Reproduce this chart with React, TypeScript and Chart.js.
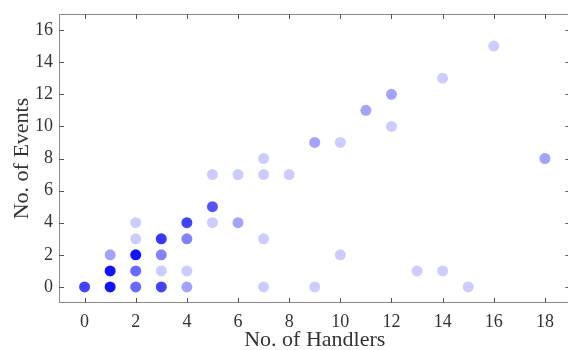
import React, { useEffect, useRef } from "react";
import { Chart, registerables } from "chart.js";

Chart.register(...registerables);

// No. of Handlers for each point
const handlers = [0, 1, 1, 1, 2, 2, 2, 2, 2, 3, 3, 3, 3, 4, 4, 4, 4, 5, 5, 5, 6, 6, 7, 7, 7, 7, 8, 9, 9, 10, 10, 11, 12, 12, 13, 14, 14, 15, 16, 18];
// No. of Events for each point
const events = [0, 0, 1, 2, 0, 1, 2, 3, 4, 0, 1, 2, 3, 0, 1, 3, 4, 4, 5, 7, 4, 7, 0, 3, 7, 8, 7, 0, 9, 2, 9, 11, 10, 12, 1, 1, 13, 0, 15, 8];
// how many observations overlap at each point (drives opacity)
const counts = [6, 12, 12, 2, 4, 4, 12, 1, 1, 6, 1, 3, 7, 2, 1, 3, 6, 1, 5, 1, 2, 1, 1, 1, 1, 1, 1, 1, 2, 1, 1, 2, 1, 2, 1, 1, 1, 1, 1, 2];

const xTicks = [0, 2, 4, 6, 8, 10, 12, 14, 16, 18];
const yTicks = [0, 2, 4, 6, 8, 10, 12, 14, 16];

const SERIF = "'Liberation Serif', 'Times New Roman', serif";

function colorFor(n: number): string {
  const a = 1 - Math.pow(0.8, n);
  return `rgba(0,0,255,${a.toFixed(3)})`;
}

const framePlugin = {
  id: "frame",
  afterDatasetsDraw(chart: any) {
    const { ctx, chartArea } = chart;
    const { left, right, top, bottom } = chartArea;
    const xs = chart.scales.x;
    const ys = chart.scales.y;
    ctx.save();
    ctx.strokeStyle = "#8a8a8a";
    ctx.lineWidth = 1;
    ctx.strokeRect(left + 0.5, top + 0.5, right - left - 1, bottom - top - 1);
    ctx.strokeStyle = "#555";
    const len = 5;
    ctx.beginPath();
    for (const v of xTicks) {
      const px = Math.round(xs.getPixelForValue(v)) + 0.5;
      ctx.moveTo(px, bottom);
      ctx.lineTo(px, bottom - len);
      ctx.moveTo(px, top);
      ctx.lineTo(px, top + len);
    }
    for (const v of yTicks) {
      const py = Math.round(ys.getPixelForValue(v)) + 0.5;
      ctx.moveTo(left, py);
      ctx.lineTo(left + len, py);
      ctx.moveTo(right, py);
      ctx.lineTo(right - len, py);
    }
    ctx.stroke();
    ctx.restore();
  },
};

export default function App() {
  const ref = useRef<HTMLCanvasElement>(null);
  useEffect(() => {
    if (!ref.current) return;
    const data = handlers.map((h, i) => ({ x: h, y: events[i] }));
    const chart = new Chart(ref.current, {
      type: "scatter",
      data: {
        datasets: [
          {
            data,
            backgroundColor: counts.map(colorFor),
            borderWidth: 0,
            pointRadius: 5.5,
            pointHoverRadius: 5.5,
          },
        ],
      },
      options: {
        responsive: false,
        animation: false,
        layout: { padding: { top: 14, right: 1, left: 0, bottom: 0 } },
        plugins: { legend: { display: false }, tooltip: { enabled: false } },
        scales: {
          x: {
            type: "linear",
            min: -1,
            max: 19,
            afterBuildTicks: (s: any) => {
              s.ticks = xTicks.map((v) => ({ value: v }));
            },
            afterFit: (s: any) => {
              s.height = 47;
              s.paddingLeft = 0;
              s.paddingRight = 0;
            },
            grid: { display: false, drawTicks: false },
            border: { display: false },
            ticks: {
              color: "#333",
              font: { family: SERIF, size: 18 },
              padding: 8,
              maxRotation: 0,
              autoSkip: false,
            },
            title: {
              display: true,
              text: "No. of Handlers",
              color: "#333",
              font: { family: SERIF, size: 22 },
              padding: { top: 0, bottom: -3 },
            },
          },
          y: {
            type: "linear",
            min: -1,
            max: 17,
            afterBuildTicks: (s: any) => {
              s.ticks = yTicks.map((v) => ({ value: v }));
            },
            afterFit: (s: any) => {
              s.width = 59;
              s.paddingTop = 0;
              s.paddingBottom = 0;
            },
            grid: { display: false, drawTicks: false },
            border: { display: false },
            ticks: {
              color: "#333",
              font: { family: SERIF, size: 18 },
              padding: 6,
              autoSkip: false,
            },
            title: {
              display: true,
              text: "No. of Events",
              color: "#333",
              font: { family: SERIF, size: 22 },
              padding: { top: 9, bottom: 0 },
            },
          },
        },
      },
      plugins: [framePlugin],
    });
    return () => chart.destroy();
  }, []);
  return (
    <div style={{ position: "fixed", left: 0, top: 0, width: 576, height: 350, background: "#fff" }}>
      <canvas ref={ref} width={576} height={350} />
    </div>
  );
}
